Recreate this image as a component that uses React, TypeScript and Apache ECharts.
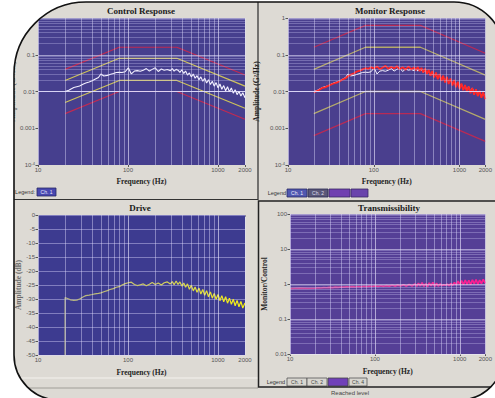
import React, { useEffect, useRef } from "react";
import * as echarts from "echarts";

// ---------- data ----------
const FREQ = [20, 22, 23, 25, 27, 29, 32, 34, 37, 40, 43, 47, 50, 54, 59, 63, 69, 74, 80, 86,
  93, 101, 109, 118, 127, 137, 148, 160, 173, 186, 201, 217, 235, 253, 274, 296, 311, 326, 343, 360,
  378, 397, 417, 437, 459, 482, 506, 532, 558, 586, 616, 646, 679, 713, 748, 786, 825, 866, 909, 955,
  1003, 1053, 1105, 1160, 1218, 1279, 1343, 1410, 1481, 1555, 1633, 1714, 1800, 1890, 2000];

const CONTROL = [0.0100, 0.0108, 0.0115, 0.0128, 0.0135, 0.0142, 0.0160, 0.0170, 0.0182, 0.0195,
  0.0215, 0.0240, 0.0300, 0.0265, 0.0275, 0.0290, 0.0310, 0.0330, 0.0335, 0.0330,
  0.0345, 0.0440, 0.0300, 0.0360, 0.0370, 0.0355, 0.0380, 0.0420, 0.0360, 0.0400,
  0.0440, 0.0350, 0.0410, 0.0380, 0.0395, 0.0370, 0.0420, 0.0360, 0.0400, 0.0380,
  0.0330, 0.0390, 0.0310, 0.0360, 0.0280, 0.0320, 0.0250, 0.0300, 0.0230, 0.0270,
  0.0210, 0.0250, 0.0190, 0.0230, 0.0170, 0.0210, 0.0155, 0.0190, 0.0140, 0.0175,
  0.0125, 0.0160, 0.0115, 0.0145, 0.0105, 0.0135, 0.0098, 0.0125, 0.0090, 0.0112,
  0.0082, 0.0102, 0.0075, 0.0092, 0.0068];

const MONITOR = [0.0095, 0.0105, 0.0110, 0.0125, 0.0130, 0.0140, 0.0155, 0.0165, 0.0175, 0.0190,
  0.0210, 0.0230, 0.0260, 0.0290, 0.0310, 0.0350, 0.0370, 0.0400, 0.0430, 0.0410,
  0.0460, 0.0420, 0.0480, 0.0400, 0.0450, 0.0500, 0.0410, 0.0470, 0.0420, 0.0490,
  0.0400, 0.0460, 0.0390, 0.0480, 0.0400, 0.0450, 0.0380, 0.0470, 0.0360, 0.0440,
  0.0330, 0.0420, 0.0300, 0.0390, 0.0270, 0.0360, 0.0240, 0.0330, 0.0215, 0.0300,
  0.0195, 0.0270, 0.0175, 0.0250, 0.0160, 0.0225, 0.0145, 0.0205, 0.0130, 0.0185,
  0.0118, 0.0165, 0.0108, 0.0150, 0.0098, 0.0138, 0.0090, 0.0125, 0.0082, 0.0115,
  0.0075, 0.0105, 0.0068, 0.0095, 0.0062];

const DRIVE_FLOOR = -50;
const DRIVE = [-29.5, -30.0, -30.3, -30.5, -30.4, -30.0, -29.2, -28.8, -28.6, -28.4,
  -28.2, -28.0, -27.8, -27.4, -27.0, -26.6, -26.3, -25.8, -25.6, -25.0,
  -24.5, -24.2, -24.0, -24.8, -25.2, -24.9, -24.6, -25.3, -24.7, -24.1,
  -24.8, -24.3, -25.0, -24.2, -23.9, -24.6, -23.8, -24.9, -23.6, -24.8,
  -23.9, -25.4, -24.3, -25.8, -24.6, -26.5, -25.1, -27.1, -25.7, -27.6,
  -26.1, -28.2, -26.6, -28.7, -27.0, -29.2, -27.5, -29.7, -28.0, -30.1,
  -28.4, -30.6, -28.8, -31.0, -29.2, -31.5, -29.7, -31.9, -30.1, -32.4,
  -30.5, -32.8, -30.9, -33.2, -31.4];

const TRANS_LOW_FREQ = [10, 13, 16];
const TRANS_LOW = [0.74, 0.76, 0.75];
const TRANSMISS = [0.76, 0.78, 0.77, 0.79, 0.78, 0.80, 0.79, 0.81, 0.80, 0.82,
  0.81, 0.83, 0.82, 0.84, 0.82, 0.85, 0.83, 0.86, 0.84, 0.87,
  0.85, 0.88, 0.86, 0.89, 0.86, 0.90, 0.87, 0.92, 0.87, 0.93,
  0.88, 0.95, 0.87, 0.97, 0.88, 1.00, 0.86, 1.05, 0.88, 1.10,
  0.86, 1.02, 0.84, 1.08, 0.88, 1.12, 0.85, 1.05, 0.87, 1.00,
  0.90, 0.95, 0.92, 0.98, 0.90, 1.02, 0.92, 1.10, 0.95, 1.20,
  0.98, 1.25, 0.95, 1.30, 0.98, 1.28, 0.96, 1.32, 1.00, 1.35,
  0.98, 1.30, 1.02, 1.35, 1.05];

const PROFILE_FREQ = [20, 80, 350, 2000];
const CTRL_ALARM_HI = [0.02, 0.08, 0.08, 0.014];
const CTRL_ALARM_LO = [0.005, 0.02, 0.02, 0.0035];
const CTRL_ABORT_HI = [0.04, 0.16, 0.16, 0.028];
const CTRL_ABORT_LO = [0.0025, 0.01, 0.01, 0.00175];
const MON_ALARM_HI = [0.04, 0.16, 0.16, 0.028];
const MON_ALARM_LO = [0.0025, 0.01, 0.01, 0.00175];
const MON_ABORT_HI = [0.16, 0.63, 0.63, 0.11];
const MON_ABORT_LO = [0.00063, 0.0025, 0.0025, 0.00044];

const X_LABELS = [10, 100, 1000, 2000];
const PSD_LABELS = [0.0001, 0.001, 0.01, 0.1, 1];
const TR_LABELS = [0.01, 0.1, 1, 10, 100];

// ---------- helpers ----------
const SERIF = '"Liberation Serif", "DejaVu Serif", serif';
const SANS = '"Liberation Sans", "DejaVu Sans", sans-serif';

const MANT = [1, 2, 3, 4, 5, 6, 7, 8, 9];
function logGrid(e0: number, e1: number, maxVal: number) {
  const out: number[] = [];
  for (let e = e0; e <= e1; e++) {
    for (const m of MANT) {
      const v = +(m * Math.pow(10, e)).toPrecision(4);
      if (v <= maxVal * 1.0001) out.push(v);
    }
  }
  return out;
}
const X_GRID = logGrid(1, 3, 2000);
const PSD_GRID = logGrid(-4, 0, 1);
const TR_GRID = logGrid(-2, 2, 100);
const isDecade = (v: number) => Math.abs(Math.log10(v) - Math.round(Math.log10(v))) < 1e-6;

const FRAME_D = "M86 2 A72 72 0 0 0 14 74 V355 A45 45 0 0 0 59 400 H459 A45 45 0 0 0 504 355 V52 A50 50 0 0 0 454 2 Z";
const MASK_D = "M-20 -20 H520 V420 H-20 Z " + FRAME_D;
echarts.graphic.registerShape("frameMask", echarts.graphic.extendPath(MASK_D, {}));
echarts.graphic.registerShape("frameLine", echarts.graphic.extendPath(FRAME_D, {}));

function yLogLabel(v: number) {
  const e = Math.round(Math.log10(v));
  if (e <= -4) return `{m|10}{s|${e}}`;
  if (e >= 0) return String(Math.round(Math.pow(10, e)));
  return Math.pow(10, e).toFixed(-e);
}

const pts = (xs: number[], ys: number[]) => xs.map((x, i) => [x, ys[i]]);

function lineSeries(i: number, data: any[], color: any, width: number, z: number) {
  return {
    type: "line", xAxisIndex: i, yAxisIndex: i, data, showSymbol: false, symbol: "none",
    z, silent: true, lineStyle: { color, width }, emphasis: { disabled: true },
  };
}

function gridSeries(i: number, xs: number[], ys: number[], vColor: string, hColor: string, major: string) {
  return {
    type: "line", xAxisIndex: i, yAxisIndex: i, data: [], z: 1, silent: true,
    markLine: {
      silent: true, symbol: ["none", "none"], label: { show: false }, animation: false,
      emphasis: { disabled: true },
      lineStyle: { type: "solid", width: 0.8 },
      data: [
        ...xs.map((v) => ({ xAxis: v, lineStyle: { type: "solid", width: 0.9, color: isDecade(v) ? major : vColor } })),
        ...ys.map((v) => ({ yAxis: v, lineStyle: { type: "solid", width: 0.8, color: isDecade(v) ? major : hColor } })),
      ],
    },
  };
}

const tickLabelStyle = { fontSize: 6, color: "#555", fontFamily: SANS };
const axisNameStyle = { fontFamily: SERIF, fontWeight: "bold", fontSize: 7.5, color: "#1e1e1e" };

function xAxis(i: number, gap: number) {
  return {
    type: "log", logBase: 10, gridIndex: i, min: 10, max: 2000,
    axisLine: { show: false }, splitLine: { show: false }, minorSplitLine: { show: false },
    axisTick: { show: true, length: 2, lineStyle: { color: "#333", width: 0.8 }, customValues: X_LABELS },
    axisLabel: {
      ...tickLabelStyle, customValues: X_LABELS, margin: 2,
      formatter: (v: number) => String(Math.round(v)),
    },
    name: "Frequency (Hz)", nameLocation: "middle", nameGap: gap, nameTextStyle: axisNameStyle,
  };
}

function yLogAxis(i: number, min: number, max: number, labels: number[], name: string, gap: number, nameColor: string) {
  return {
    type: "log", logBase: 10, gridIndex: i, min, max,
    axisLine: { show: false }, splitLine: { show: false }, minorSplitLine: { show: false },
    axisTick: { show: true, length: 2.5, lineStyle: { color: "#333", width: 0.8 }, customValues: labels },
    axisLabel: {
      ...tickLabelStyle, customValues: labels, margin: 3, formatter: yLogLabel,
      rich: {
        m: { fontSize: 6, color: "#555", fontFamily: SANS },
        s: { fontSize: 4, color: "#555", fontFamily: SANS, padding: [0, 0, 4, 0] },
      },
    },
    name, nameLocation: "middle", nameGap: gap, nameTextStyle: { ...axisNameStyle, color: nameColor },
  };
}

function txt(text: string, x: number, y: number, size: number, fill: string, opts: any = {}) {
  return {
    type: "text", x, y, z: 50, silent: true,
    style: {
      text, fill, fontSize: size, fontFamily: opts.family || SANS, fontWeight: opts.weight || "normal",
      align: opts.align || "center", textAlign: opts.align || "center",
      verticalAlign: "middle", textVerticalAlign: "middle",
    },
  };
}

function box(x: number, y: number, w: number, h: number, fill: string, stroke: string, label?: string, labelColor?: string) {
  const els: any[] = [
    { type: "rect", z: 50, silent: true, shape: { x, y, width: w, height: h }, style: { fill, stroke, lineWidth: 0.8 } },
  ];
  if (label) els.push(txt(label, x + w / 2, y + h / 2, 5, labelColor || "#eee"));
  return els;
}

function hline(x1: number, x2: number, y: number, stroke: string, w: number) {
  return { type: "line", z: 60, silent: true, shape: { x1, y1: y, x2, y2: y }, style: { stroke, lineWidth: w } };
}
function vline(x: number, y1: number, y2: number, stroke: string, w: number) {
  return { type: "line", z: 60, silent: true, shape: { x1: x, y1, x2: x, y2 }, style: { stroke, lineWidth: w } };
}

export default function App() {
  const ref = useRef<HTMLDivElement>(null);
  useEffect(() => {
    if (!ref.current) return;
    const chart = echarts.init(ref.current, undefined, { renderer: "svg" });

    const V_MINOR = "rgba(228,224,255,0.48)";
    const H_MINOR = "rgba(210,204,248,0.40)";
    const MAJOR = "rgba(238,235,255,0.68)";

    const driveColor = new echarts.graphic.LinearGradient(0, 0, 1, 0, [
      { offset: 0, color: "#b2b084" },
      { offset: 0.55, color: "#d2cf5c" },
      { offset: 1, color: "#f6f010" },
    ]);
    const pinkColor = new echarts.graphic.LinearGradient(0, 0, 1, 0, [
      { offset: 0, color: "#c8509e" },
      { offset: 0.6, color: "#e8359a" },
      { offset: 1, color: "#ff1a90" },
    ]);

    const option: any = {
      animation: false,
      backgroundColor: "#dddad4",
      grid: [
        { left: 38, top: 18, width: 207, height: 147, show: true, backgroundColor: "#463f8e", borderWidth: 0 },
        { left: 288, top: 18, width: 206, height: 147, show: true, backgroundColor: "#4a3f8e", borderWidth: 0 },
        { left: 38, top: 215, width: 207, height: 140, show: true, backgroundColor: "#3d3b90", borderWidth: 0 },
        { left: 290, top: 214, width: 200, height: 140, show: true, backgroundColor: "#553f96", borderWidth: 0 },
      ],
      xAxis: [xAxis(0, 12), xAxis(1, 12), xAxis(2, 13), xAxis(3, 13)],
      yAxis: [
        yLogAxis(0, 0.0001, 1, PSD_LABELS, "Amplitude (G²/Hz)", 16, "#6a6a6a"),
        yLogAxis(1, 0.0001, 1, PSD_LABELS, "Amplitude (G²/Hz)", 28, "#1e1e1e"),
        {
          type: "value", gridIndex: 2, min: -50, max: 0, interval: 5,
          axisLine: { show: false },
          splitLine: { show: true, lineStyle: { color: "rgba(218,214,252,0.55)", width: 0.8 } },
          axisTick: { show: true, length: 2.5, lineStyle: { color: "#333", width: 0.8 } },
          axisLabel: { ...tickLabelStyle, margin: 3 },
          name: "Amplitude (dB)", nameLocation: "middle", nameGap: 16,
          nameTextStyle: { ...axisNameStyle, color: "#6a6a6a" },
        },
        yLogAxis(3, 0.01, 100, TR_LABELS, "Monitor/Control", 22, "#1e1e1e"),
      ],
      series: [
        // panel 1: Control Response
        gridSeries(0, X_GRID, PSD_GRID, V_MINOR, H_MINOR, MAJOR),
        lineSeries(0, pts(PROFILE_FREQ, CTRL_ABORT_HI), "#c02a52", 1.2, 2),
        lineSeries(0, pts(PROFILE_FREQ, CTRL_ABORT_LO), "#c02a52", 1.2, 2),
        lineSeries(0, pts(PROFILE_FREQ, CTRL_ALARM_HI), "#cdc25a", 1.2, 2),
        lineSeries(0, pts(PROFILE_FREQ, CTRL_ALARM_LO), "#cdc25a", 1.2, 2),
        lineSeries(0, pts(FREQ, CONTROL), "#f4f2ff", 1.1, 3),
        // panel 2: Monitor Response
        gridSeries(1, X_GRID, PSD_GRID, V_MINOR, H_MINOR, MAJOR),
        lineSeries(1, pts(PROFILE_FREQ, MON_ABORT_HI), "#b82a55", 1.2, 2),
        lineSeries(1, pts(PROFILE_FREQ, MON_ABORT_LO), "#b82a55", 1.2, 2),
        lineSeries(1, pts(PROFILE_FREQ, MON_ALARM_HI), "#b4aa6a", 1.3, 2),
        lineSeries(1, pts(PROFILE_FREQ, MON_ALARM_LO), "#b4aa6a", 1.3, 2),
        lineSeries(1, pts(FREQ, CONTROL), "#f4f2ff", 1, 3),
        lineSeries(1, pts(FREQ, MONITOR), "#ff2626", 1.8, 4),
        // panel 3: Drive
        gridSeries(2, X_GRID, [], V_MINOR, H_MINOR, MAJOR),
        lineSeries(2, [[FREQ[0], DRIVE_FLOOR], ...pts(FREQ, DRIVE)], driveColor, 1.2, 3),
        // panel 4: Transmissibility
        gridSeries(3, X_GRID, TR_GRID, V_MINOR, H_MINOR, MAJOR),
        lineSeries(3, [...pts(TRANS_LOW_FREQ, TRANS_LOW), ...pts(FREQ, TRANSMISS)], pinkColor, 1.7, 3),
      ],
      graphic: [
        // titles
        txt("Control Response", 141, 11, 9, "#1a1a1a", { family: SERIF, weight: "bold" }),
        txt("Monitor Response", 390, 11, 9, "#1a1a1a", { family: SERIF, weight: "bold" }),
        txt("Drive", 140, 208, 9, "#1a1a1a", { family: SERIF, weight: "bold" }),
        txt("Transmissibility", 389, 208, 9, "#1a1a1a", { family: SERIF, weight: "bold" }),
        // legends
        txt("Legend:", 35, 192, 5.5, "#333", { align: "right" }),
        ...box(37, 188, 19, 8, "#4848b0", "#2a2a66", "Ch. 1", "#e8e8ff"),
        txt("Legend", 286, 193, 5.5, "#333", { align: "right" }),
        ...box(287, 189, 20, 8, "#5058b0", "#2a2a66", "Ch. 1", "#eef"),
        ...box(308, 189, 20, 8, "#5a5878", "#2a2a50", "Ch. 2", "#dde"),
        ...box(329, 189, 21, 8, "#7040b0", "#3a2a66"),
        ...box(351, 189, 17, 8, "#6a44ac", "#3a2a66"),
        txt("Legend", 285, 382, 5.5, "#333", { align: "right" }),
        ...box(287, 378, 20, 8, "#d8d6d0", "#555", "Ch. 1", "#444"),
        ...box(307, 378, 20, 8, "#d8d6d0", "#555", "Ch. 2", "#444"),
        ...box(328, 378, 20, 8, "#7040b8", "#444"),
        ...box(349, 378, 18, 8, "#d8d6d0", "#555", "Ch. 4", "#444"),
        txt("Reached level", 350, 393, 6, "#444"),
        // dividers
        vline(258, 2, 200, "#2a2a2a", 1.2),
        hline(14, 258, 199.5, "#333", 1.2),
        hline(14, 258, 378, "#f4f2ee", 1),
        hline(14, 258, 388, "#a09e98", 1),
        {
          type: "rect", z: 60, silent: true, shape: { x: 258.5, y: 201, width: 250, height: 186 },
          style: { fill: "none", stroke: "#222", lineWidth: 1.5 },
        },
        // outer frame
        { type: "frameMask", x: 0, y: 0, z: 100, silent: true, style: { fill: "#ffffff", stroke: "none" } },
        { type: "frameLine", x: 0, y: 0, z: 101, silent: true, style: { fill: "none", stroke: "#111", lineWidth: 1.6 } },
      ],
    };
    chart.setOption(option);
    return () => chart.dispose();
  }, []);
  return <div ref={ref} style={{ position: "absolute", left: 0, top: 0, width: 495, height: 398 }} />;
}
